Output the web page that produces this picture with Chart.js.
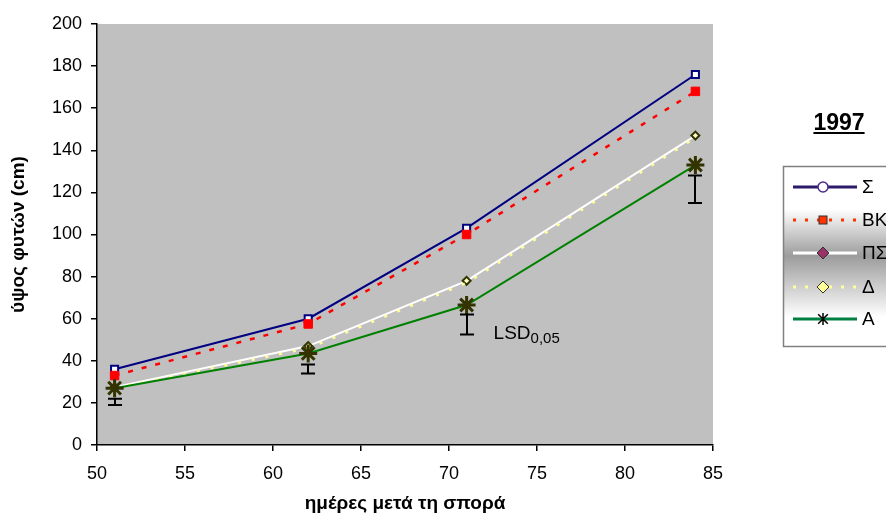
<!DOCTYPE html>
<html>
<head>
<meta charset="utf-8">
<script src="https://cdn.jsdelivr.net/npm/chart.js@4"></script>
<style>
  body { margin: 0; background: #fff; }
  #wrap { width: 886px; height: 515px; position: relative; }
</style>
</head>
<body>
<div id="wrap"><canvas id="chart" width="886" height="515"></canvas></div>
<script>
// days after sowing
const days = [51, 62, 71, 84];
// plant height (cm) per treatment
const sigma = [36, 60, 103, 176];
const bk = [33, 57.5, 100, 168];
const ps = [27.5, 47, 78, 147];
const delta = [27, 46, 77, 146];
const alpha = [27, 43.5, 66.5, 133];
// LSD 0.05 bars
const lsdLow = [19, 34, 52.5, 115];
const lsdHigh = [22, 38.3, 62, 128];
const legendLabels = ['Σ', 'ΒΚ', 'ΠΣ', 'Δ', 'Α'];

const FONT = 'Arial, "Liberation Sans", sans-serif';
Chart.defaults.font.family = FONT;
Chart.defaults.color = '#000';

function pts(arr) {
    return days.map((d, i) => ({ x: d, y: arr[i] }));
}

// gray plot area
const plotBg = {
    id: 'plotBg',
    beforeDraw(chart) {
        const a = chart.chartArea;
        const ctx = chart.ctx;
        ctx.save();
        ctx.fillStyle = '#C0C0C0';
        ctx.fillRect(a.left, a.top, a.right - a.left, a.bottom - a.top);
        ctx.restore();
    }
};

// LSD bars + label
const lsdBars = {
    id: 'lsdBars',
    afterDatasetsDraw(chart) {
        const ctx = chart.ctx;
        const xs = chart.scales.x, ys = chart.scales.y;
        ctx.save();
        ctx.strokeStyle = '#000';
        ctx.lineWidth = 2;
        days.forEach((d, i) => {
            const x = Math.round(xs.getPixelForValue(d));
            const y1 = ys.getPixelForValue(lsdHigh[i]);
            const y2 = ys.getPixelForValue(lsdLow[i]);
            ctx.beginPath();
            ctx.moveTo(x, y1); ctx.lineTo(x, y2);
            ctx.moveTo(x - 7, y1); ctx.lineTo(x + 7, y1);
            ctx.moveTo(x - 7, y2); ctx.lineTo(x + 7, y2);
            ctx.stroke();
        });
        // LSD0,05 text
        const tx = xs.getPixelForValue(days[2]) + 27;
        const ty = ys.getPixelForValue(lsdLow[2]) + 5;
        ctx.fillStyle = '#000';
        ctx.textBaseline = 'alphabetic';
        ctx.font = '19px ' + FONT;
        ctx.fillText('LSD', tx, ty);
        const w = ctx.measureText('LSD').width;
        ctx.font = '15px ' + FONT;
        ctx.fillText('0,05', tx + w, ty + 4);
        ctx.restore();
    }
};

function drawStar(ctx, x, y, r) {
    ctx.beginPath();
    ctx.moveTo(x, y - r); ctx.lineTo(x, y + r);
    ctx.moveTo(x - r * 0.8, y - r * 0.8); ctx.lineTo(x + r * 0.8, y + r * 0.8);
    ctx.moveTo(x + r * 0.8, y - r * 0.8); ctx.lineTo(x - r * 0.8, y + r * 0.8);
    ctx.stroke();
}

// year title + legend on the right
const sideLegend = {
    id: 'sideLegend',
    afterDraw(chart) {
        const ctx = chart.ctx;
        ctx.save();
        // title
        ctx.fillStyle = '#000';
        ctx.font = 'bold 23px ' + FONT;
        ctx.textAlign = 'center';
        ctx.textBaseline = 'alphabetic';
        ctx.fillText('1997', 839, 130);
        const tw = ctx.measureText('1997').width;
        ctx.fillRect(839 - tw / 2, 132, tw, 2);

        // box
        const bx = 783, by = 166, bw = 130, bh = 180;
        const g = ctx.createLinearGradient(0, by, 0, by + bh);
        g.addColorStop(0, '#ffffff');
        g.addColorStop(0.24, '#ffffff');
        g.addColorStop(0.5, '#9c9c9c');
        g.addColorStop(0.84, '#ffffff');
        g.addColorStop(1, '#ffffff');
        ctx.fillStyle = g;
        ctx.fillRect(bx, by, bw, bh);
        ctx.strokeStyle = '#808080';
        ctx.lineWidth = 1.5;
        ctx.strokeRect(bx + 0.5, by + 0.5, bw, bh);

        const rows = [187, 220, 253, 287, 319];
        const x1 = 793, x2 = 857, mx = 823;
        const lines = [
            { c: '#2d1b69', dash: [] },
            { c: '#FF3300', dash: [3, 9] },
            { c: '#ffffff', dash: [] },
            { c: '#FFFF99', dash: [3, 9] },
            { c: '#008040', dash: [] }
        ];
        rows.forEach((ry, i) => {
            ctx.setLineDash(lines[i].dash);
            ctx.strokeStyle = lines[i].c;
            ctx.lineWidth = 3;
            ctx.beginPath();
            ctx.moveTo(x1, ry); ctx.lineTo(x2, ry);
            ctx.stroke();
            ctx.setLineDash([]);
        });
        // markers
        ctx.lineWidth = 1.5;
        ctx.fillStyle = '#fff'; ctx.strokeStyle = '#4b2a8a';
        ctx.beginPath(); ctx.arc(mx, rows[0], 5, 0, Math.PI * 2); ctx.fill(); ctx.stroke();
        ctx.fillStyle = '#FF3300'; ctx.strokeStyle = '#333';
        ctx.lineWidth = 1;
        ctx.fillRect(mx - 4, rows[1] - 4, 8, 8); ctx.strokeRect(mx - 4, rows[1] - 4, 8, 8);
        [[2, '#993366'], [3, '#FFFF99']].forEach(([k, c]) => {
            ctx.fillStyle = c; ctx.strokeStyle = '#333';
            ctx.beginPath();
            ctx.moveTo(mx, rows[k] - 6); ctx.lineTo(mx + 6, rows[k]);
            ctx.lineTo(mx, rows[k] + 6); ctx.lineTo(mx - 6, rows[k]);
            ctx.closePath(); ctx.fill(); ctx.stroke();
        });
        ctx.strokeStyle = '#000'; ctx.lineWidth = 1.5;
        drawStar(ctx, mx, rows[4], 6);

        // labels
        ctx.fillStyle = '#000';
        ctx.font = '19px ' + FONT;
        ctx.textAlign = 'left';
        ctx.textBaseline = 'middle';
        rows.forEach((ry, i) => ctx.fillText(legendLabels[i], 862, ry + 1));
        ctx.restore();
    }
};

const ctx = document.getElementById('chart').getContext('2d');
new Chart(ctx, {
    type: 'line',
    data: {
        datasets: [{
            label: legendLabels[0],
            data: pts(sigma),
            borderColor: '#000080',
            borderWidth: 2,
            pointStyle: 'rect',
            pointRadius: 5,
            pointBackgroundColor: '#fff',
            pointBorderColor: '#000080',
            pointBorderWidth: 2,
            order: 4
        }, {
            label: legendLabels[1],
            data: pts(bk),
            borderColor: '#FF0000',
            borderWidth: 2.5,
            borderDash: [5, 9],
            pointStyle: 'rect',
            pointRadius: 6,
            pointBackgroundColor: '#FF0000',
            pointBorderColor: '#FF0000',
            pointBorderWidth: 1,
            order: 3
        }, {
            label: legendLabels[2],
            data: pts(ps),
            borderColor: '#ffffff',
            borderWidth: 2,
            pointStyle: 'rectRot',
            pointRadius: 4,
            pointBackgroundColor: '#FFFFCC',
            pointBorderColor: '#333300',
            pointBorderWidth: 2,
            order: 2
        }, {
            label: legendLabels[3],
            data: pts(delta),
            borderColor: '#FFFF99',
            borderWidth: 2.5,
            borderDash: [3, 11],
            pointRadius: 0,
            order: 1
        }, {
            label: legendLabels[4],
            data: pts(alpha),
            borderColor: '#008000',
            borderWidth: 2,
            pointStyle: 'star',
            pointRadius: 9,
            pointBorderColor: '#333300',
            pointBorderWidth: 3,
            order: 0
        }]
    },
    options: {
        responsive: false,
        animation: false,
        devicePixelRatio: 1,
        layout: { padding: { top: 24, right: 173, left: 0, bottom: 0 } },
        plugins: {
            legend: { display: false },
            tooltip: { enabled: false }
        },
        scales: {
            x: {
                type: 'linear',
                min: 50, max: 85,
                ticks: { stepSize: 5, padding: 12, font: { size: 18 }, color: '#000' },
                grid: { drawOnChartArea: false, tickLength: 6, color: '#000', lineWidth: 1.5 },
                border: { color: '#000', width: 1.5 },
                title: {
                    display: true,
                    text: 'ημέρες μετά τη σπορά',
                    font: { size: 19, weight: 'bold' },
                    color: '#000',
                    padding: { top: 0, bottom: 0 }
                },
                afterFit(s) { s.height = 70; }
            },
            y: {
                min: 0, max: 200,
                ticks: { stepSize: 20, padding: 9, font: { size: 18 }, color: '#000' },
                grid: { drawOnChartArea: false, tickLength: 6, color: '#000', lineWidth: 1.5 },
                border: { color: '#000', width: 1.5 },
                title: {
                    display: true,
                    text: 'ύψος φυτών (cm)',
                    font: { size: 19, weight: 'bold' },
                    color: '#000',
                    padding: { top: 7, bottom: 0 }
                },
                afterFit(s) { s.width = 97; }
            }
        }
    },
    plugins: [plotBg, lsdBars, sideLegend]
});
</script>
</body>
</html>
